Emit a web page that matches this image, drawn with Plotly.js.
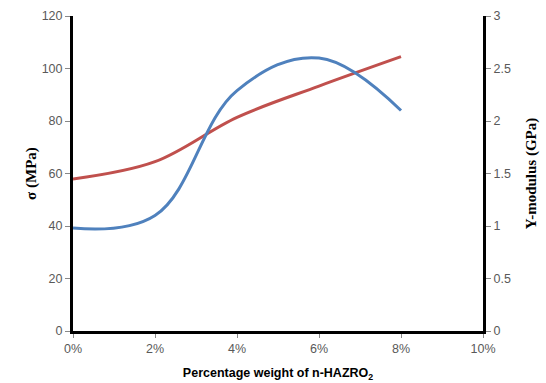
<!DOCTYPE html>
<html>
<head>
<meta charset="utf-8">
<script src="https://cdn.plot.ly/plotly-3.0.1.min.js"></script>
<style>html,body{margin:0;padding:0;background:#fff;}#chart{width:546px;height:383px;}</style>
</head>
<body>
<div id="chart"></div>
<script>
const weightPct = [0, 0.02, 0.04, 0.06, 0.08];
const sigmaMPa = [57.9, 64.5, 81.4, 93.3, 104.5];
const youngGPa = [0.98, 1.1, 2.29, 2.6, 2.1];
const xTicks = [0, 0.02, 0.04, 0.06, 0.08, 0.1];
const xTickText = ['0%', '2%', '4%', '6%', '8%', '10%'];
const yTicks = [0, 20, 40, 60, 80, 100, 120];
const y2Ticks = [0, 0.5, 1, 1.5, 2, 2.5, 3];

const tickFont = {family: 'Liberation Sans, Arial, sans-serif', size: 12.5, color: '#595959'};

const traces = [
  {x: weightPct, y: sigmaMPa, type: 'scatter', mode: 'lines', name: 'σ',
   line: {color: '#C0504D', width: 3, shape: 'spline', smoothing: 1}, yaxis: 'y'},
  {x: weightPct, y: youngGPa, type: 'scatter', mode: 'lines', name: 'Y-modulus',
   line: {color: '#4F81BD', width: 3, shape: 'spline', smoothing: 1.1}, yaxis: 'y2'}
];

const layout = {
  width: 546, height: 383,
  margin: {l: 73, r: 63, t: 16, b: 52},
  paper_bgcolor: '#fff', plot_bgcolor: '#fff',
  showlegend: false,
  xaxis: {
    range: [0, 0.1], tickvals: xTicks, ticktext: xTickText,
    showgrid: false, zeroline: false, showline: true, linecolor: '#000', linewidth: 3,
    ticks: 'outside', ticklen: 4, tickcolor: '#888', tickfont: tickFont,
    title: {text: 'Percentage weight of n-HAZRO<sub>2</sub>', standoff: 14,
            font: {family: 'Liberation Sans, Arial, sans-serif', size: 12.5, color: '#000', weight: 'bold'}}
  },
  yaxis: {
    range: [0, 120], tickvals: yTicks,
    showgrid: false, zeroline: false, showline: true, linecolor: '#000', linewidth: 3,
    ticks: 'outside', ticklen: 5, tickcolor: '#888', tickfont: tickFont,
    title: {text: 'σ (MPa)', standoff: 2,
            font: {family: 'Liberation Serif, Times New Roman, serif', size: 15, color: '#000', weight: 'bold'}}
  },
  yaxis2: {
    range: [0, 3], tickvals: y2Ticks, overlaying: 'y', side: 'right',
    showgrid: false, zeroline: false, showline: true, linecolor: '#000', linewidth: 3,
    ticks: 'outside', ticklen: 5, tickcolor: '#888', tickfont: tickFont,
    title: {text: 'Y-modulus (GPa)', standoff: 16,
            font: {family: 'Liberation Serif, Times New Roman, serif', size: 15, color: '#000', weight: 'bold'}}
  }
};

Plotly.newPlot('chart', traces, layout, {displayModeBar: false, staticPlot: true});
</script>
</body>
</html>
